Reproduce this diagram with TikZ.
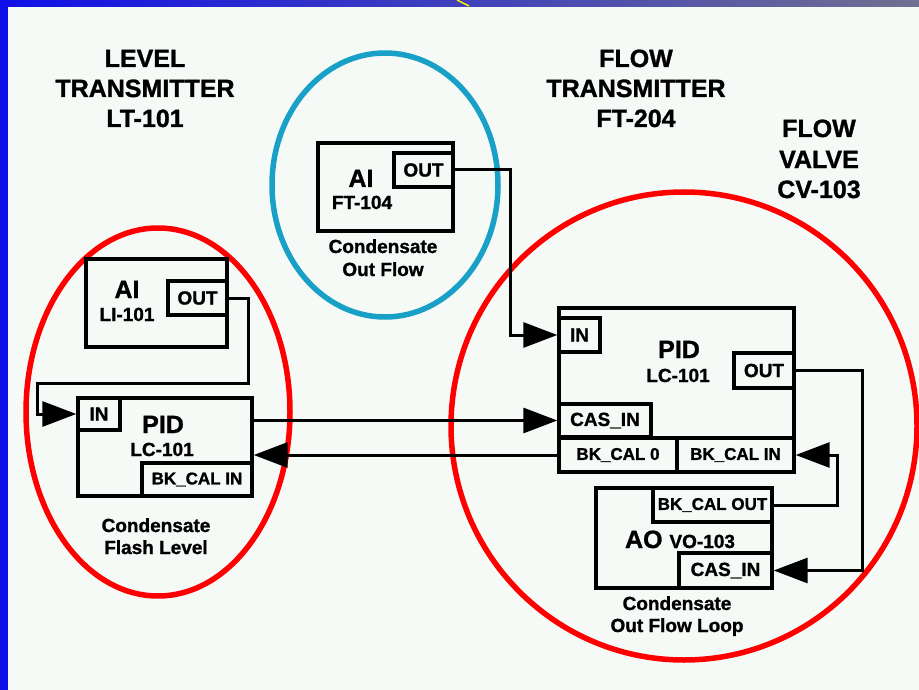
\documentclass[tikz,border=0pt]{standalone}
\usepackage{fontspec}
\setmainfont{Liberation Sans}[BoldFeatures={FakeBold=1.2}]
\usetikzlibrary{arrows.meta}
\definecolor{bg}{HTML}{F5FAF7}
\definecolor{barL}{HTML}{1010E8}
\definecolor{barR}{HTML}{707090}
\definecolor{ringred}{HTML}{FF0000}
\definecolor{ringblue}{HTML}{18A0C6}
\tikzset{
 blk/.style={draw=black, line width=3.4pt, rectangle, inner sep=0pt, font=\bfseries\fontsize{19}{22}\selectfont},
 bk/.style={blk, font=\bfseries\fontsize{17}{20}\selectfont},
 big/.style={inner sep=0pt, anchor=base, font=\bfseries\fontsize{25}{30}\selectfont},
 lbl/.style={inner sep=0pt, anchor=base, font=\bfseries\fontsize{19}{22}\selectfont},
 wire/.style={draw=black, line width=3pt},
 arr/.style={wire, -{Triangle[length=34pt,width=25pt]}},
 ring/.style={line width=5.5pt},
}
\begin{document}
\begin{tikzpicture}[x=1pt,y=-1pt]
\useasboundingbox (0,0) rectangle (919,690);
% background and frame bars
\fill[bg] (0,0) rectangle (919,690);
\shade[left color=barL, right color=barR] (0,0) rectangle (919,7);
\fill[barL] (0,0) rectangle (8,690);
\draw[yellow, line width=1.5pt] (457,0) -- (469,6);

% rings
\draw[ring, ringred] (158,412) ellipse [x radius=132, y radius=184];
\draw[ring, ringblue] (385,185) ellipse [x radius=113, y radius=132];
\draw[ring, ringred] (684,426) ellipse [x radius=233, y radius=234];

% headings
\node[big] (h1a) at (145,67) {LEVEL};
\node[big] (h1b) at (145,97) {TRANSMITTER};
\node[big] (h1c) at (145,127) {LT-101};
\node[big] (h2a) at (636,67) {FLOW};
\node[big] (h2b) at (636,97) {TRANSMITTER};
\node[big] (h2c) at (636,127) {FT-204};
\node[big] (h3a) at (819,137) {FLOW};
\node[big] (h3b) at (819,168) {VALVE};
\node[big] (h3c) at (819,198) {CV-103};

% left group: AI LI-101
\node[blk, minimum width=141, minimum height=88] (lai) at (156.5,303) {};
\node[blk, minimum width=59, minimum height=34] (lout) at (197.5,298) {OUT};
\node[big] (laiT) at (127,298) {AI};
\node[lbl] (laiN) at (127,321) {LI-101};
% left PID
\node[blk, minimum width=174, minimum height=98] (lpid) at (165,447) {};
\node[blk, minimum width=42, minimum height=32] (lin) at (99,414) {IN};
\node[bk, minimum width=110, minimum height=33] (lbk) at (197,479.5) {BK\_CAL IN};
\node[big] (lpidT) at (163,433) {PID};
\node[lbl] (lpidN) at (162,456) {LC-101};
\node[lbl] (lcap1) at (156,532) {Condensate};
\node[lbl] (lcap2) at (156,554) {Flash Level};

% middle group: AI FT-104
\node[blk, minimum width=135, minimum height=88] (fai) at (385.5,187) {};
\node[blk, minimum width=59, minimum height=34] (fout) at (423.5,170) {OUT};
\node[big] (faiT) at (361,187) {AI};
\node[lbl] (faiN) at (362,209) {FT-104};
\node[lbl] (fcap1) at (383,253) {Condensate};
\node[lbl] (fcap2) at (383,276) {Out Flow};

% right group: PID
\node[blk, minimum width=235, minimum height=164] (rpid) at (676.5,390) {};
\node[blk, minimum width=41, minimum height=34] (rin) at (579.5,335) {IN};
\node[blk, minimum width=60, minimum height=35] (rout) at (764,370.5) {OUT};
\node[blk, minimum width=92, minimum height=33] (rcas) at (605,420.5) {CAS\_IN};
\node[bk, minimum width=118, minimum height=34] (rbk0) at (618,455) {BK\_CAL 0};
\node[bk, minimum width=117, minimum height=34] (rbkin) at (735.5,455) {BK\_CAL IN};
\node[big] (rpidT) at (679,358) {PID};
\node[lbl] (rpidN) at (678,382) {LC-101};
% right group: AO
\node[blk, minimum width=176, minimum height=100] (ao) at (684,538) {};
\node[bk, minimum width=119, minimum height=34] (aobk) at (712.5,505) {BK\_CAL OUT};
\node[blk, minimum width=93, minimum height=35] (aocas) at (725.5,570.5) {CAS\_IN};
\node[inner sep=0pt, anchor=base] (aoT) at (680,548) {\bfseries\fontsize{25}{30}\selectfont AO \fontsize{19}{22}\selectfont VO-103};
\node[lbl] (rcap1) at (677,610) {Condensate};
\node[lbl] (rcap2) at (677,632) {Out Flow Loop};

% wiring
\coordinate (w1a) at (248,383);
\coordinate (w1b) at (37,383);
\draw[arr] (lout.east) -| (w1a) -- (w1b) |- (lin.west);
\draw[arr] (rcas.west -| lpid.east) -- (rcas.west);
\draw[arr] (rbk0.west) -- (rbk0.west -| lpid.east);
\coordinate (w3) at (510,250);
\draw[arr] (fout.east) -| (w3) |- (rin.west);
\coordinate (w4) at (862,470);
\draw[arr] (rout.east) -| (w4) |- (aocas.east);
\coordinate (w5) at (837,480);
\draw[arr] (aobk.east) -| (w5) |- (rbkin.east);
\end{tikzpicture}
\end{document}
